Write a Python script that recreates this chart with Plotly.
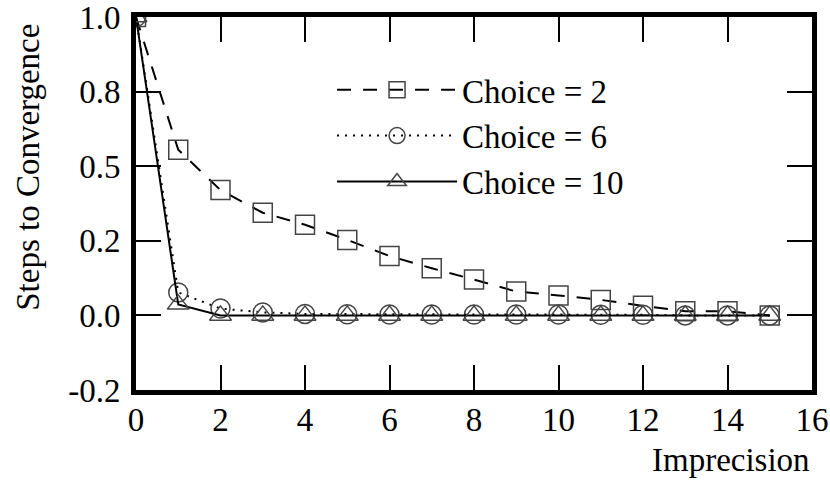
import plotly.graph_objects as go

imprecision = list(range(16))
choice2 = [1.0, 0.555, 0.42, 0.344, 0.304, 0.253, 0.199, 0.158, 0.12, 0.08, 0.067, 0.052, 0.032, 0.014, 0.014, 0.0]
choice6 = [1.0, 0.077, 0.023, 0.01, 0.005, 0.004, 0.003, 0.003, 0.003, 0.003, 0.003, 0.002, 0.002, 0.0, 0.0, 0.0]
choice10 = [1.0, 0.037, 0.0, 0.0, 0.0, 0.0, 0.0, 0.0, 0.0, 0.0, 0.0, 0.0, 0.0, 0.0, 0.0, 0.0]

y_tickvals = [-0.25, 0.0, 0.25, 0.5, 0.75, 1.0]
y_ticktext = ["-0.2", "0.0", "0.2", "0.5", "0.8", "1.0"]
x_tickvals = [0, 2, 4, 6, 8, 10, 12, 14, 16]

FONT = "Liberation Serif, Times New Roman, serif"
FS = 33
mk_col = "#444444"

fig = go.Figure()
series = [
    ("Choice = 2", choice2, "square-open", "14px,12px"),
    ("Choice = 6", choice6, "circle-open", "2px,6px"),
    ("Choice = 10", choice10, "triangle-up-open", "solid"),
]
for i, (name, ys, sym, dash) in enumerate(series):
    fig.add_trace(go.Scatter(
        x=imprecision, y=ys, name=name, mode="lines+markers",
        line=dict(color="black", width=2, dash=dash),
        marker=dict(symbol=sym, size=19, color=mk_col, line=dict(color=mk_col, width=1.5)),
        legendgroup=f"g{i}", cliponaxis=True,
    ))

axis_common = dict(
    showline=True, linewidth=5, linecolor="black", mirror="ticks",
    ticks="inside", ticklen=25, tickwidth=2, tickcolor="black",
    showgrid=False, zeroline=False, automargin=False,
    ticklabeloverflow="allow",
    tickfont=dict(family=FONT, size=FS, color="black"),
)
fig.update_xaxes(range=[0, 16], tickvals=x_tickvals, ticklabelstandoff=-4, **axis_common)
fig.update_yaxes(range=[-0.25, 1.0], tickvals=y_tickvals, ticktext=y_ticktext,
                 ticklabelstandoff=4, **axis_common)

fig.add_annotation(text="Steps to Convergence", xref="paper", yref="paper",
                   x=-0.16, y=0.598, textangle=-90, showarrow=False,
                   xanchor="center", yanchor="middle",
                   font=dict(family=FONT, size=FS, color="black"))
fig.add_annotation(text="Imprecision", xref="paper", yref="paper",
                   x=1.0, y=-0.188, xanchor="right", yanchor="middle", showarrow=False,
                   font=dict(family=FONT, size=FS, color="black"))

fig.update_layout(
    width=830, height=484,
    margin=dict(l=136, r=18, t=17, b=94),
    paper_bgcolor="white", plot_bgcolor="white",
    font=dict(family=FONT, size=FS, color="black"),
    showlegend=True,
    legend=dict(x=0.290, y=0.88, xanchor="left", yanchor="top",
                bgcolor="rgba(0,0,0,0)", itemwidth=120,
                traceorder="grouped", tracegroupgap=0,
                font=dict(family=FONT, size=FS, color="black")),
)

fig.write_html("out.html", config={"displayModeBar": False},
               post_script="document.body.style.margin='0';document.body.style.overflow='hidden';")
